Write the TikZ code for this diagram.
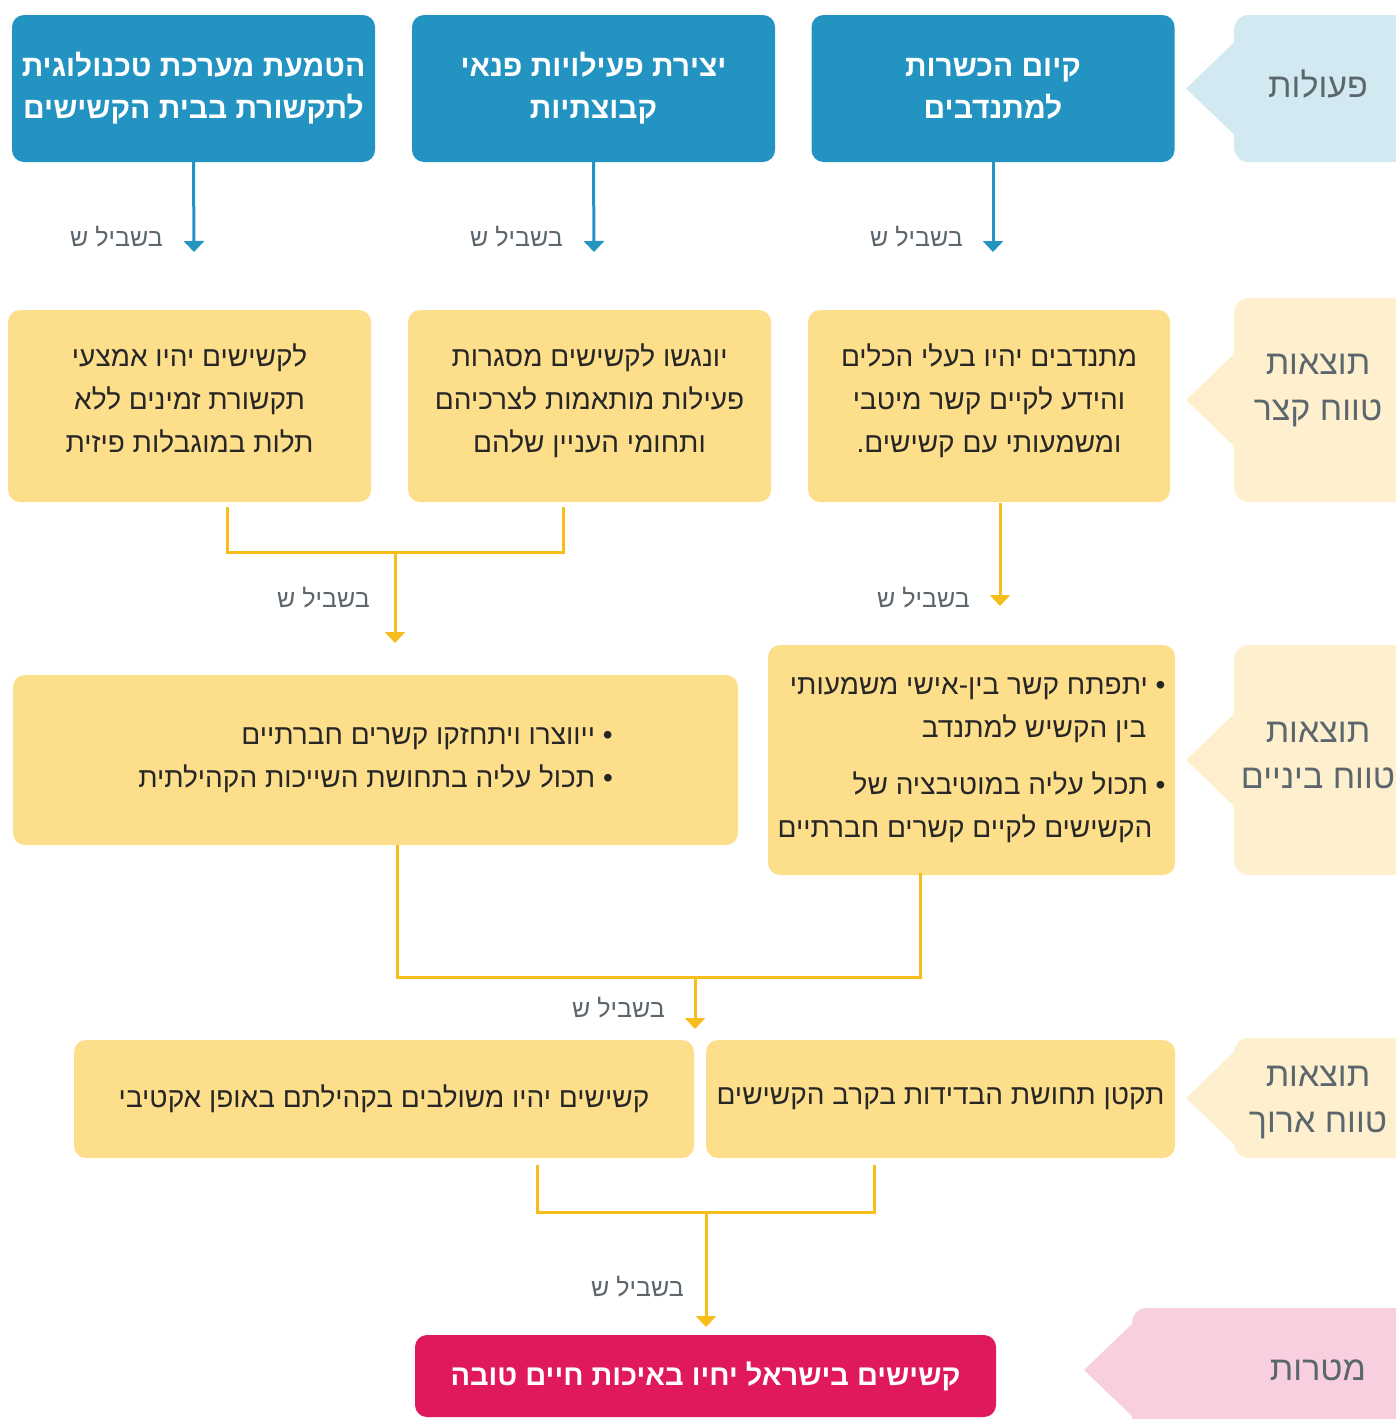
\documentclass[tikz,border=0pt]{standalone}
\usepackage{fontspec}
\setmainfont[Script=Hebrew]{Liberation Sans}
\TeXXeTstate=1
\usepackage{xcolor}
\usetikzlibrary{arrows.meta,positioning,calc}
\definecolor{actblue}{HTML}{2394C2}
\definecolor{resyellow}{HTML}{FDDE8B}
\definecolor{linkyellow}{HTML}{F7BD1A}
\definecolor{taga}{HTML}{D3E9F1}
\definecolor{tagb}{HTML}{FEF0CE}
\definecolor{tagc}{HTML}{F8CFDF}
\definecolor{goalred}{HTML}{E0195F}
\definecolor{graytxt}{HTML}{5C666D}
\definecolor{darktxt}{HTML}{262626}
\newcommand{\heb}[1]{\beginR #1\endR}
\tikzset{
  >={Triangle[width=20pt,length=11pt]},
  action/.style={fill=actblue, rounded corners=12pt, minimum width=363pt, minimum height=147pt, text=white, align=center, font=\bfseries\fontsize{30}{42}\selectfont},
  result/.style={fill=resyellow, rounded corners=12pt, text=darktxt, align=center, font=\fontsize{28}{43}\selectfont},
  goal/.style={fill=goalred, rounded corners=12pt, minimum width=581pt, minimum height=82pt, text=white, font=\bfseries\fontsize{29}{40}\selectfont},
  tagbox/.style={rounded corners=14pt, minimum width=176pt, anchor=west},
  tagtext/.style={text=graytxt, align=center, font=\fontsize{34}{46}\selectfont},
  why/.style={text=graytxt, anchor=east, inner sep=0pt, font=\fontsize{25}{30}\selectfont},
  bluelink/.style={draw=actblue, line width=3pt},
  yellowlink/.style={draw=linkyellow, line width=3pt},
}
\begin{document}
\begin{tikzpicture}[x=1pt, y=-1pt]
\useasboundingbox (0,0) rectangle (1396,1419);

% side tags
\node[tagbox, fill=taga, minimum height=147pt] (tA) at (1234,88.5) {};
\node[tagbox, fill=tagb, minimum height=204pt] (tB) at (1234,400) {};
\node[tagbox, fill=tagb, minimum height=230pt] (tC) at (1234,760) {};
\node[tagbox, fill=tagb, minimum height=120pt] (tD) at (1234,1098) {};
\node[tagbox, fill=tagc, minimum height=124pt, minimum width=280pt] (tE) at (1132,1370) {};
\foreach \t/\c in {tA/taga, tB/tagb, tC/tagb, tD/tagb, tE/tagc}
  \fill[\c] ([yshift=46pt]\t.west) -- ([xshift=-48pt]\t.west) -- ([yshift=-46pt]\t.west) -- cycle;
\node[tagtext] (tAt) at (1318,84) {\heb{פעולות}};
\node[tagtext] (tBt) at (1318,391) {\heb{תוצאות}\\\heb{טווח קצר}};
\node[tagtext] (tCt) at (1318,755) {\heb{תוצאות}\\\heb{טווח ביניים}};
\node[tagtext] (tDt) at (1318,1102) {\heb{תוצאות}\\\heb{טווח ארוך}};
\node[tagtext] (tEt) at (1318,1370) {\heb{מטרות}};

% actions
\node[action] (act1) at (193.5,88.5) {\heb{הטמעת מערכת טכנולוגית}\\\heb{לתקשורת בבית הקשישים}};
\node[action] (act2) at (593.5,88.5) {\heb{יצירת פעילויות פנאי}\\\heb{קבוצתיות}};
\node[action] (act3) at (993,88.5) {\heb{קיום הכשרות}\\\heb{למתנדבים}};

% short term
\node[result, text depth=16pt, minimum width=363pt, minimum height=192pt] (res1) at (189.5,406) {\heb{לקשישים יהיו אמצעי}\\\heb{תקשורת זמינים ללא}\\\heb{תלות במוגבלות פיזית}};
\node[result, text depth=16pt, minimum width=363pt, minimum height=192pt] (res2) at (589.5,406) {\heb{יונגשו לקשישים מסגרות}\\\heb{פעילות מותאמות לצרכיהם}\\\heb{ותחומי העניין שלהם}};
\node[result, text depth=16pt, minimum width=362pt, minimum height=192pt] (res3) at (989,406) {\heb{מתנדבים יהיו בעלי הכלים}\\\heb{והידע לקיים קשר מיטבי}\\\heb{ומשמעותי עם קשישים.}};

% intermediate
\node[result, align=right, minimum width=725pt, minimum height=170pt] (mid1) at (375.5,760) {\heb{• ייווצרו ויתחזקו קשרים חברתיים}\\\heb{• תכול עליה בתחושת השייכות הקהילתית}};
\node[result, align=right, minimum width=407pt, minimum height=230pt] (mid2) at (971.5,760) {\heb{• יתפתח קשר בין-אישי משמעותי}\\\heb{\hspace*{19pt}בין הקשיש למתנדב}\\[14pt]\heb{• תכול עליה במוטיבציה של}\\\heb{\hspace*{13pt}הקשישים לקיים קשרים חברתיים}};

% long term
\node[result, minimum width=620pt, minimum height=118pt] (long1) at (384,1099) {\heb{קשישים יהיו משולבים בקהילתם באופן אקטיבי}};
\node[result, minimum width=469pt, minimum height=118pt] (long2) at (940.5,1099) {\heb{תקטן תחושת הבדידות בקרב הקשישים}};

% goal
\node[goal] (aim) at (705.5,1376) {\heb{קשישים בישראל יחיו באיכות חיים טובה}};

% links
\coordinate (e1) at (194,252);
\coordinate (e2) at (594,252);
\coordinate (e3) at (993,252);
\draw[bluelink,->] (act1.south) -- (e1);
\draw[bluelink,->] (act2.south) -- (e2);
\draw[bluelink,->] (act3.south) -- (e3);
\node[why] (w1) at (163,237) {\heb{בשביל ש}};
\node[why] (w2) at (563,237) {\heb{בשביל ש}};
\node[why] (w3) at (963,237) {\heb{בשביל ש}};

\coordinate (m1) at (395,552);
\coordinate (e4) at (395,643);
\draw[yellowlink] ([xshift=37.5pt,yshift=-5pt]res1.south) |- (m1) -| ([xshift=-26.5pt,yshift=-5pt]res2.south);
\draw[yellowlink,->] (m1) -- (e4);
\node[why] (w4) at (370,598) {\heb{בשביל ש}};

\coordinate (e5) at (1000,606);
\draw[yellowlink,->] ([xshift=11pt,yshift=-1pt]res3.south) -- (e5);
\node[why] (w5) at (970,598) {\heb{בשביל ש}};

\coordinate (m2) at (695,977);
\coordinate (e6) at (695,1029);
\draw[yellowlink] ([xshift=21.5pt]mid1.south) |- (m2) -| ([xshift=-51.5pt,yshift=2pt]mid2.south);
\draw[yellowlink,->] (m2) -- (e6);
\node[why] (w6) at (665,1008) {\heb{בשביל ש}};

\coordinate (m3) at (706,1212);
\coordinate (e7) at (706,1327);
\draw[yellowlink] ([xshift=153pt,yshift=-7pt]long1.south) |- (m3) -| ([xshift=-66.5pt,yshift=-7pt]long2.south);
\draw[yellowlink,->] (m3) -- (e7);
\node[why] (w7) at (684,1287) {\heb{בשביל ש}};
\end{tikzpicture}
\end{document}
